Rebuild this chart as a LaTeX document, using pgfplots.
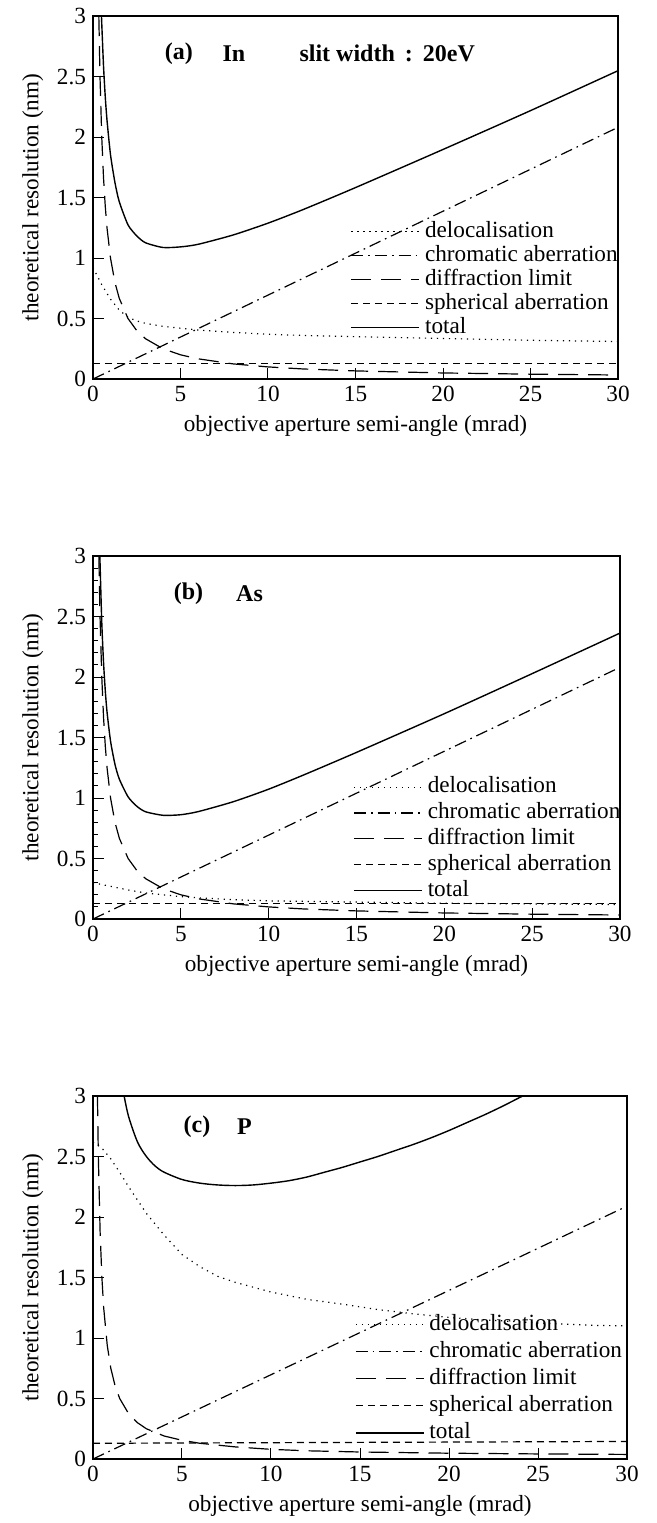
\documentclass[border=0pt]{standalone}
\usepackage{fontspec}
\setmainfont{Liberation Serif}
\usepackage{pgfplots}
\pgfplotsset{compat=1.18}

\newcommand{\figfont}{\fontsize{11.6}{13.5}\selectfont}
\newcommand{\titlefont}{\bfseries\fontsize{12}{14}\selectfont}

\pgfplotsset{
  resplot/.style={
    scale only axis,
    height=181.5pt,
    xmin=0, xmax=30, ymin=0, ymax=3,
    xtick={0,5,10,15,20,25,30},
    ytick={0,0.5,1,1.5,2,2.5,3},
    xtick pos=left, ytick pos=left,
    tick align=inside,
    major tick length=5.5pt,
    minor tick length=2.5pt,
    tick style={black, line width=0.5pt},
    axis line style={line width=0.6pt},
    /pgf/number format/assume math mode=true,
    tick label style={font=\figfont},
    label style={font=\figfont},
    xlabel={objective aperture semi-angle (mrad)},
    ylabel={theoretical resolution (nm)},
    legend cell align=left,
    legend image code/.code={\draw[##1] (0pt,0pt) -- (34pt,0pt);
      \path (35.5pt,0pt);},
    legend style={draw=none, fill=none, inner sep=0pt, font=\figfont,
      row sep=0pt,
      nodes={inner sep=1pt, text height=7.8pt, text depth=2.2pt}},
    every axis plot/.append style={line width=0.6pt, black},
  },
  deloc/.style={dash pattern=on 0.6pt off 2.4pt},
  chrom/.style={dash pattern=on 6pt off 2.5pt on 0.8pt off 2.5pt},
  diffr/.style={dash pattern=on 10pt off 5pt},
  spher/.style={dash pattern=on 3.5pt off 2.5pt},
  totl/.style={solid, line width=0.7pt},
}

\begin{document}
\begin{tikzpicture}
\path[use as bounding box] (0,0) rectangle (328.5pt,-761.5pt);

% ---------------- (a) In ----------------
\begin{axis}[resplot, width=262.5pt, at={(46.5pt,-8pt)}, anchor=north west,
  legend style={at={(axis cs:14.7,1.32)}, anchor=north west}]
\addplot[deloc] coordinates {(0,0.92)(0.25,0.85)(0.5,0.78)(0.75,0.72)(1,0.66)(1.5,0.57)(2,0.51)(2.5,0.48)(3,0.46)(4,0.435)(5,0.42)(6,0.405)(8,0.385)(10,0.37)(12,0.36)(15,0.35)(20,0.335)(25,0.32)(30,0.31)};
\addlegendentry{delocalisation}
\addplot[chrom] coordinates {(0,0)(30,2.08)};
\addlegendentry{chromatic aberration}
\addplot[diffr] coordinates {(0.333,3.0)(0.4,2.5)(0.5,2.0)(0.6,1.667)(0.7,1.429)(0.8,1.25)(1,1.0)(1.25,0.8)(1.5,0.667)(2,0.5)(2.5,0.4)(3,0.333)(4,0.25)(5,0.2)(6,0.167)(8,0.125)(10,0.1)(12,0.083)(15,0.067)(20,0.05)(25,0.04)(30,0.033)};
\addlegendentry{diffraction limit}
\addplot[spher] coordinates {(0,0.125)(30,0.125)};
\addlegendentry{spherical aberration}
\addplot[totl, smooth, tension=0.4] coordinates {(0.485,3.0)(0.5,2.94)(0.6,2.59)(0.7,2.334)(0.8,2.14)(1,1.854)(1.25,1.627)(1.5,1.466)(2,1.274)(2.5,1.183)(3,1.126)(4,1.087)(5,1.092)(6,1.113)(8,1.19)(10,1.288)(12,1.40)(15,1.582)(20,1.897)(25,2.218)(30,2.548)};
\addlegendentry{total}
\node[anchor=west, font=\titlefont] at (axis cs:3.7,2.69) {(a)};
\node[anchor=west, font=\titlefont] at (axis cs:7.0,2.69) {In};
\node[anchor=west, font=\titlefont] at (axis cs:11.4,2.69) {slit width\ \,:\ \,20eV};
\end{axis}

% ---------------- (b) As ----------------
\begin{axis}[resplot, width=263.5pt, at={(46.5pt,-278pt)}, anchor=north west,
  minor y tick num=4,
  legend style={at={(axis cs:14.8,1.20)}, anchor=north west,
    nodes={text height=8.3pt, text depth=2.6pt}}]
\addplot[deloc] coordinates {(0,0.30)(1,0.27)(2,0.24)(3,0.215)(4,0.2)(5,0.185)(6,0.175)(8,0.16)(10,0.15)(12,0.146)(15,0.14)(20,0.13)(25,0.125)(30,0.12)};
\addlegendentry{delocalisation}
\addplot[chrom] coordinates {(0,0)(30,2.08)};
\addlegendentry{chromatic aberration}
\addplot[diffr] coordinates {(0.333,3.0)(0.4,2.5)(0.5,2.0)(0.6,1.667)(0.7,1.429)(0.8,1.25)(1,1.0)(1.25,0.8)(1.5,0.667)(2,0.5)(2.5,0.4)(3,0.333)(4,0.25)(5,0.2)(6,0.167)(8,0.125)(10,0.1)(12,0.083)(15,0.067)(20,0.05)(25,0.04)(30,0.033)};
\addlegendentry{diffraction limit}
\addplot[spher] coordinates {(0,0.13)(30,0.13)};
\addlegendentry{spherical aberration}
\addplot[totl, smooth, tension=0.4] coordinates {(0.39,3.0)(0.4,2.946)(0.5,2.45)(0.6,2.12)(0.7,1.886)(0.8,1.71)(1,1.469)(1.25,1.279)(1.5,1.156)(2,1.009)(2.5,0.931)(3,0.886)(4,0.857)(5,0.862)(6,0.888)(8,0.97)(10,1.073)(12,1.191)(15,1.377)(20,1.697)(25,2.028)(30,2.363)};
\addlegendentry{total}
\node[anchor=west, font=\titlefont] at (axis cs:4.2,2.69) {(b)};
\node[anchor=west, font=\titlefont] at (axis cs:7.75,2.69) {As};
\end{axis}

% ---------------- (c) P ----------------
\begin{axis}[resplot, width=267pt, at={(46.5pt,-548pt)}, anchor=north west,
  legend style={at={(axis cs:14.7,1.23)}, anchor=north west,
    nodes={text height=8.8pt, text depth=2.8pt}}]
\addplot[deloc] coordinates {(0,2.62)(0.5,2.57)(1,2.48)(1.5,2.37)(2,2.25)(2.5,2.14)(3,2.03)(4,1.85)(5,1.69)(6,1.59)(7,1.51)(8,1.46)(9,1.42)(10,1.38)(12,1.32)(14,1.28)(16,1.235)(18,1.2)(20,1.17)(22,1.15)(25,1.125)(28,1.105)(30,1.10)};
\addlegendentry{delocalisation}
\addplot[chrom] coordinates {(0,0)(30,2.09)};
\addlegendentry{chromatic aberration}
\addplot[diffr] coordinates {(0.25,3.0)(0.3,2.5)(0.4,1.875)(0.5,1.5)(0.6,1.25)(0.8,0.94)(1,0.75)(1.25,0.6)(1.5,0.5)(2,0.375)(2.5,0.3)(3,0.25)(4,0.19)(5,0.155)(6,0.13)(8,0.1)(10,0.08)(12,0.068)(15,0.058)(20,0.048)(25,0.042)(30,0.038)};
\addlegendentry{diffraction limit}
\addplot[spher] coordinates {(0,0.13)(30,0.145)};
\addlegendentry{spherical aberration}
\addplot[totl, smooth, tension=0.5] coordinates {(1.75,3.0)(2,2.83)(2.5,2.62)(3,2.50)(3.5,2.42)(4,2.37)(5,2.31)(6,2.28)(7,2.265)(8,2.26)(9,2.265)(10,2.28)(11,2.30)(12,2.33)(13,2.37)(14,2.41)(15,2.455)(16,2.50)(17,2.55)(18,2.60)(19,2.655)(20,2.715)(21,2.78)(22,2.845)(23,2.915)(24,2.99)(24.15,3.0)};
\addlegendentry{total}
\node[anchor=west, font=\titlefont] at (axis cs:4.7,2.75) {(c)};
\node[anchor=west, font=\titlefont] at (axis cs:7.7,2.75) {P};
\end{axis}
\end{tikzpicture}
\end{document}
